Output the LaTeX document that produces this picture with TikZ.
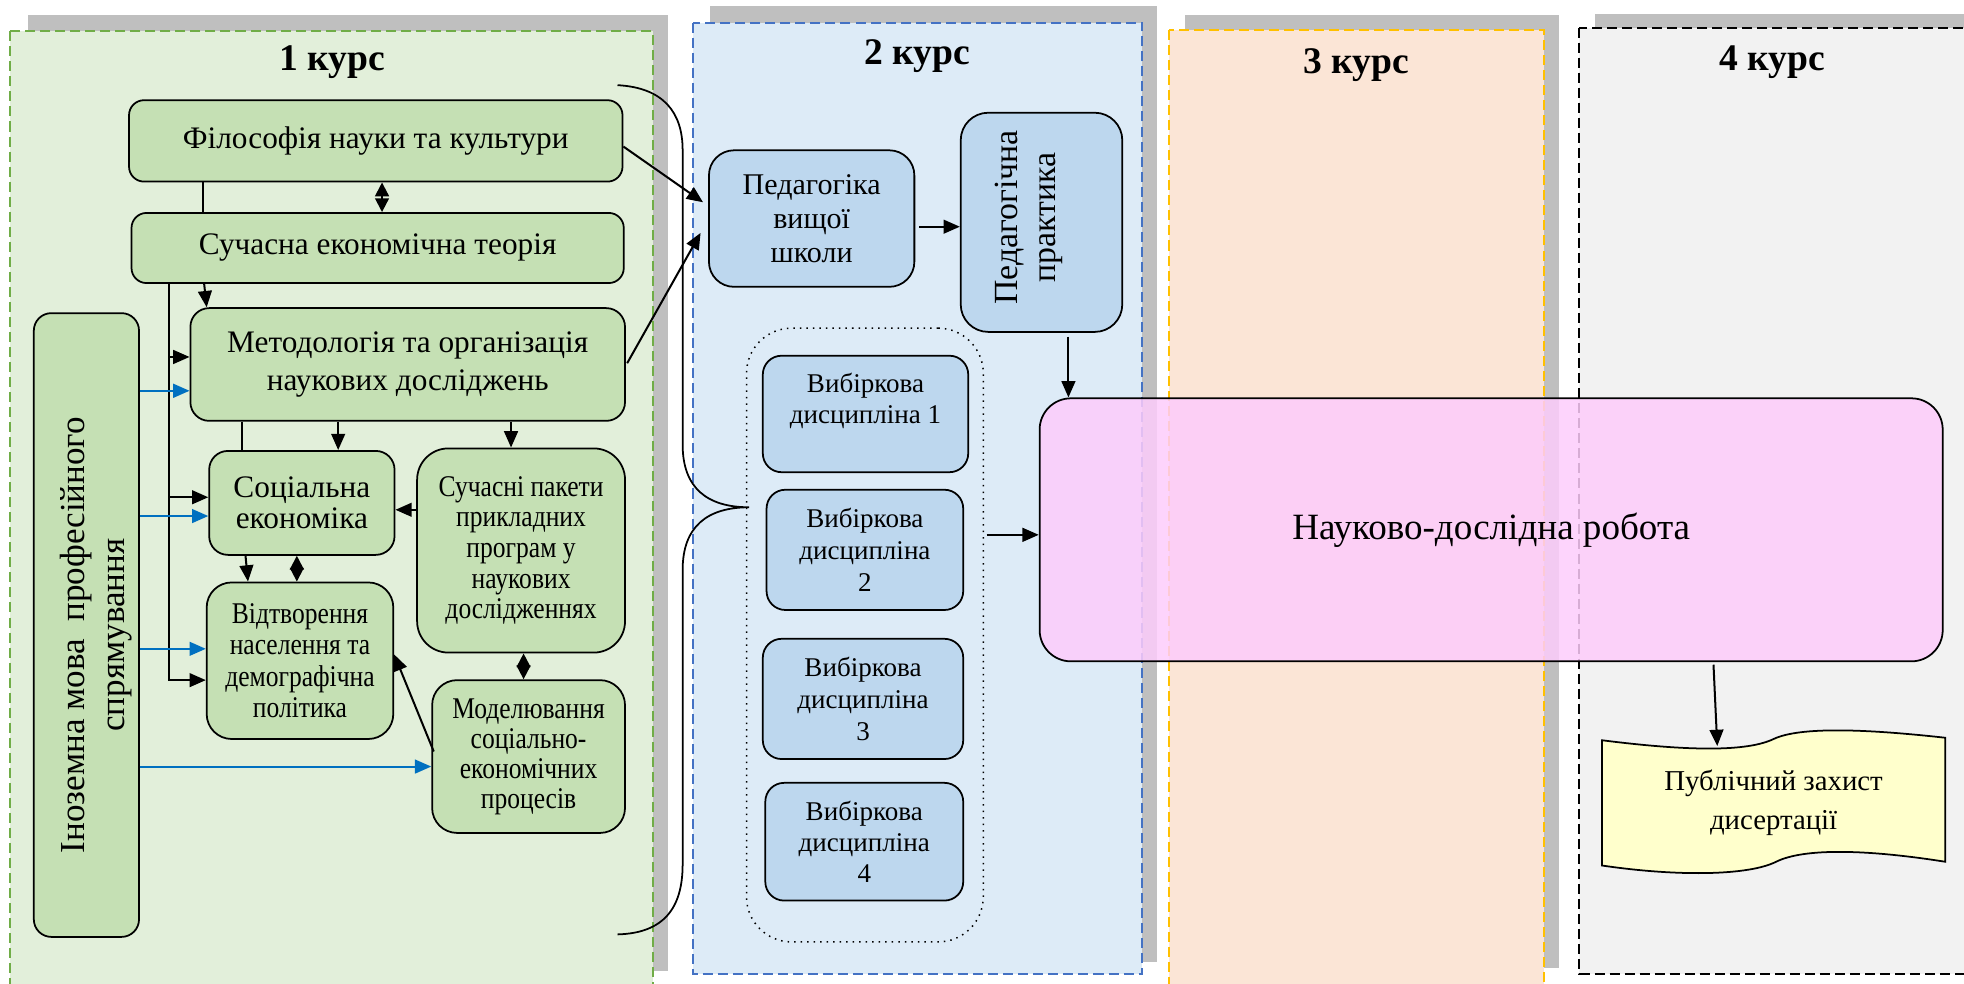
\documentclass[tikz,border=0pt]{standalone}
\usepackage{fontspec}
\setmainfont{Liberation Serif}
\newfontfamily\tnr{Liberation Serif}
\newfontfamily\narrowfont[FakeStretch=0.85]{Liberation Serif}
\usetikzlibrary{arrows.meta,calc}

\definecolor{shadowgray}{HTML}{BFBFBF}
\definecolor{cAfill}{HTML}{E2EFDA}
\definecolor{cAline}{HTML}{70AD47}
\definecolor{cBfill}{HTML}{DDEBF7}
\definecolor{cBline}{HTML}{4472C4}
\definecolor{cCfill}{HTML}{FBE5D6}
\definecolor{cCline}{HTML}{FFC000}
\definecolor{cDfill}{HTML}{F2F2F2}
\definecolor{gnodefill}{HTML}{C5E0B4}
\definecolor{bnodefill}{HTML}{BDD7EE}
\definecolor{pinkfill}{HTML}{FDCCFB}
\definecolor{docfill}{HTML}{FFFFCC}
\definecolor{arrblue}{HTML}{0070C0}

\tikzset{
  boxbase/.style={draw, line width=0.7pt, rounded corners=6pt, inner sep=1pt, align=center,
    font=\tnr\fontsize{12.5}{15}\selectfont},
  greenbox/.style={boxbase, fill=gnodefill},
  bluebox/.style={boxbase, fill=bnodefill},
  arr/.style={-{Triangle[length=6.5pt,width=5.5pt]}, line width=0.8pt},
  barr/.style={arr, draw=arrblue, fill=arrblue},
  dia/.style={{Triangle[length=5.5pt,width=5.5pt]}-{Triangle[length=5.5pt,width=5.5pt]}, line width=0.8pt},
  ln/.style={line width=0.8pt},
  shadowbox/.style={fill=shadowgray, draw=none},
  colbox/.style={line width=0.8pt, dash pattern=on 4pt off 2pt},
  coltitle/.style={font=\tnr\fontsize{15}{18}\selectfont\bfseries},
  rotlabel/.style={rotate=90, align=center, inner sep=0pt},
}

\begin{document}
\begin{tikzpicture}[x=0.5pt,y=-0.5pt]
\useasboundingbox (0,0) rectangle (1568,785);
\clip (0,0) rectangle (1568,785);

% columns
\fill[shadowbox] (22,12) rectangle (533,775);
\draw[colbox, draw=cAline, fill=cAfill] (8,25) rectangle (521,800);
\fill[shadowbox] (567,5) rectangle (924,768);
\draw[colbox, draw=cBline, fill=cBfill] (553,18) rectangle (912,778);
\fill[shadowbox] (946,12) rectangle (1245,773);
\draw[colbox, draw=cCline, fill=cCfill] (933,24) rectangle (1233,800);
\fill[shadowbox] (1273,11) rectangle (1600,768);
\draw[colbox, draw=black, fill=cDfill] (1261,22) rectangle (1600,778);

\node[coltitle] (t1) at (265,50) {1 курс};
\node[coltitle] (t2) at (732,45) {2 курс};
\node[coltitle] (t3) at (1083,52) {3 курс};
\node[coltitle] (t4) at (1415,50) {4 курс};

% column 1 nodes
\node[greenbox, minimum width=197pt, minimum height=32.5pt] (phil) at (300,112.5) {Філософія науки та культури};
\node[greenbox, minimum width=196.5pt, minimum height=28pt] (econ) at (301.5,198) {Сучасна економічна теорія};
\node[greenbox, rounded corners=7.5pt, minimum width=173.5pt, minimum height=45pt] (meth) at (325.5,291) {Методологія та організація\\наукових досліджень};
\node[greenbox, rounded corners=7.5pt, minimum width=74pt, minimum height=41.5pt, font=\tnr\fontsize{12.5}{12.5}\selectfont] (soc) at (241,401.5) {Соціальна\\економіка};
\node[greenbox, rounded corners=10pt, minimum width=74.5pt, minimum height=62.5pt, font=\narrowfont\fontsize{12}{12.5}\selectfont] (repr) at (239.5,527.5) {Відтворення\\населення та\\демографічна\\політика};
\node[greenbox, rounded corners=12.5pt, minimum width=83pt, minimum height=81.5pt, font=\narrowfont\fontsize{12}{12.25}\selectfont] (pack) at (416,439.5) {Сучасні пакети\\прикладних\\програм у\\наукових\\дослідженнях};
\node[greenbox, rounded corners=10pt, minimum width=77pt, minimum height=61pt, font=\narrowfont\fontsize{12}{12}\selectfont] (model) at (422,604) {Моделювання\\соціально-\\економічних\\процесів};
\node[greenbox, rounded corners=7pt, minimum width=42pt, minimum height=249pt] (lang) at (69,499) {};
\node[rotlabel, font=\tnr\fontsize{14}{16}\selectfont] (langtxt) at ($(lang.center)+(8,8)$) {Іноземна мова\ \ професійного\\спрямування};

% column 2 nodes
\node[bluebox, rounded corners=10pt, minimum width=82pt, minimum height=54.5pt, font=\tnr\fontsize{12}{13.5}\selectfont] (pedv) at (648,174.5) {Педагогіка\\вищої\\школи};
\node[bluebox, rounded corners=11pt, minimum width=64.5pt, minimum height=87.5pt] (pedp) at (831.5,177.5) {};
\node[rotlabel, font=\tnr\fontsize{13.5}{15}\selectfont] (pedptxt) at ($(pedp.center)+(-10,-4)$) {Педагогічна\\практика};
\node[draw, dotted, line width=0.6pt, rounded corners=18pt, minimum width=94.5pt, minimum height=245pt] (grp) at (690.5,507) {};
\node[bluebox, rounded corners=7.5pt, minimum width=82pt, minimum height=46.5pt, font=\tnr\fontsize{10.8}{12.6}\selectfont] (v1) at (691,330.5) {Вибіркова\\дисципліна 1\\\mbox{}};
\node[bluebox, rounded corners=7.5pt, minimum width=78.5pt, minimum height=48pt, font=\tnr\fontsize{10.8}{12.7}\selectfont] (v2) at (690.5,439) {Вибіркова\\дисципліна\\2};
\node[bluebox, rounded corners=7.5pt, minimum width=80pt, minimum height=48pt, font=\tnr\fontsize{10.8}{12.7}\selectfont] (v3) at (689,558) {Вибіркова\\дисципліна\\3};
\node[bluebox, rounded corners=7.5pt, minimum width=79pt, minimum height=47pt, font=\tnr\fontsize{10.8}{12.4}\selectfont] (v4) at (690,672) {Вибіркова\\дисципліна\\4};

% research box
\node[boxbase, fill=pinkfill, fill opacity=0.85, text opacity=1, rounded corners=12.5pt, minimum width=360.5pt, minimum height=105pt, font=\tnr\fontsize{14.8}{17}\selectfont] (nir) at (1190.5,423) {Науково-дослідна робота};

% defense document (tape shape)
\draw[line width=0.7pt, fill=docfill] (1279,591) .. controls (1350,600) and (1395,600) .. (1416,590)
  .. controls (1437,580) and (1490,582) .. (1553,589) -- (1553,688)
  .. controls (1490,678) and (1440,677) .. (1418,688)
  .. controls (1396,699) and (1340,700) .. (1279,691) -- cycle;
\node[align=center, font=\tnr\fontsize{11.5}{15.5}\selectfont, minimum width=137pt, minimum height=52pt, inner sep=0pt] (def) at (1416,641) {Публічний захист\\дисертації};

% brace
\draw[line width=0.7pt] (493,68) .. controls (530,70) and (545,90) .. (545,120) -- (545,355)
  .. controls (545,390) and (565,405) .. (598,405)
  .. controls (565,405) and (545,420) .. (545,455) -- (545,690)
  .. controls (545,725) and (530,745) .. (493,746);

% connectors column 1
\draw[dia] ($(phil.south)+(5,0)$) -- ($(econ.north)+(3.5,0)$);
\draw[ln] ($(phil.south)+(-138,0)$) -- ($(econ.north)+(-139.5,0)$);
\draw[arr] ($(econ.south)+(-138.5,0)$) -- ($(meth.north)+(-160.5,0)$);
\coordinate (busT) at ($(econ.south)+(-166.5,0)$);
\coordinate (m1) at ($(meth.west)+(0,-6)$);
\coordinate (s1) at ($(soc.west)+(0,-4.5)$);
\coordinate (r1) at ($(repr.west)+(0,15.5)$);
\draw[arr] (busT) |- (r1);
\draw[arr] (busT |- m1) -- (m1);
\draw[arr] (busT |- s1) -- (s1);
\coordinate (m2) at ($(meth.west)+(0,21)$);
\coordinate (s2) at ($(soc.west)+(0,10.5)$);
\coordinate (r2) at ($(repr.west)+(0,-9.5)$);
\coordinate (d2) at ($(model.west)+(0,8)$);
\foreach \c in {m2,s2,r2,d2} \draw[barr] (lang.east |- \c) -- (\c);
\draw[ln] ($(meth.south)+(-132.5,0)$) -- ($(soc.north)+(-48,0)$);
\draw[arr] ($(meth.south)+(-55.5,0)$) -- ($(soc.north)+(29,0)$);
\draw[arr] ($(meth.south)+(82.5,0)$) -- ($(pack.north)+(-8,0)$);
\draw[arr] ($(pack.west)+(0,-32.5)$) -- ($(soc.east)+(0,5.5)$);
\draw[arr] ($(soc.south)+(-45,0)$) -- ($(repr.north)+(-41.5,0)$);
\draw[dia] ($(soc.south)+(-4,0)$) -- ($(repr.north)+(-2.5,0)$);
\draw[dia] ($(pack.south)+(2,0)$) -- ($(model.north)+(-4,0)$);
\draw[arr] ($(model.west)+(2,-4)$) -- ($(repr.east)+(0,-5)$);

% connectors to column 2 and beyond
\draw[arr] ($(phil.east)+(0,4.5)$) -- ($(pedv.west)+(-4,-13)$);
\draw[arr] ($(meth.east)+(1,-1)$) -- ($(pedv.west)+(-6,11.5)$);
\draw[arr] ($(pedv.east)+(3,6.5)$) -- ($(pedp.west)+(0,3.5)$);
\draw[arr] ($(pedp.south)+(21.5,3)$) -- ($(nir.north)+(-337.5,0)$);
\draw[arr] ($(grp.east)+(2,-80)$) -- ($(nir.west)+(0,4)$);
\draw[arr] ($(nir.south)+(177.5,2)$) -- ($(def.north)+(-45,7)$);
\end{tikzpicture}
\end{document}
